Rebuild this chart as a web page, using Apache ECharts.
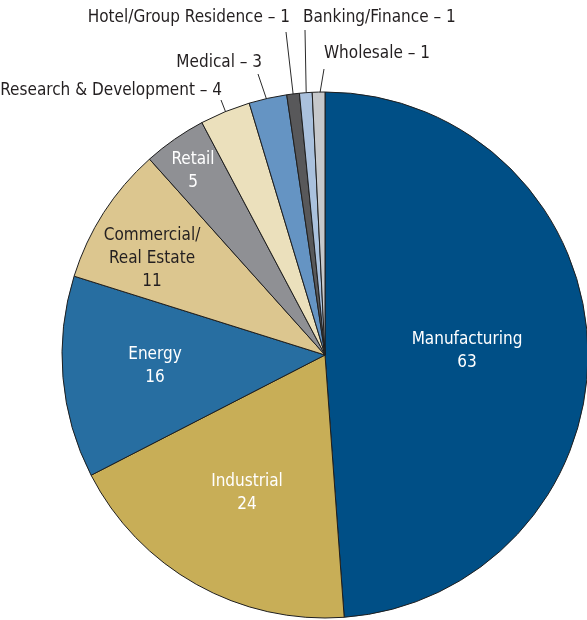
<!DOCTYPE html>
<html><head><meta charset="utf-8">
<script src="https://cdn.jsdelivr.net/npm/echarts@6/dist/echarts.min.js"></script>
<style>html,body{margin:0;padding:0;background:#fff}#c{width:587px;height:620px}</style>
</head><body><div id="c"></div>
<script>
// ---- data ----
const categories = ['Manufacturing', 'Industrial', 'Energy', 'Commercial/\nReal Estate', 'Retail',
  'Research & Development', 'Medical', 'Hotel/Group Residence', 'Banking/Finance', 'Wholesale'];
const values = [63, 24, 16, 11, 5, 4, 3, 1, 1, 1];
const insideLabel = [true, true, true, true, true, false, false, false, false, false];

// ---- style ----
const colors = ['#004f86', '#c8ae57', '#276ea1', '#dcc68f', '#8f9094', '#ebe0bc', '#6594c3', '#58585a', '#aac1dd', '#c6c8cb'];
const labelColors = ['#ffffff', '#ffffff', '#ffffff', '#231f20', '#ffffff', '#231f20', '#231f20', '#231f20', '#231f20', '#231f20'];

// pick a condensed font if one is available
function measure(font) {
  const ctx = document.createElement('canvas').getContext('2d');
  ctx.font = font;
  return ctx.measureText('Manufacturing').width;
}
let FONT_STYLE = 'normal', FONT_FAMILY = "'DejaVu Sans'", FONT_SIZE = 17;
(function chooseFont() {
  const base = measure("normal normal 17px 'DejaVu Sans'");
  const cond = measure("normal condensed normal 17px 'DejaVu Sans'");
  const condFam = measure("17px 'DejaVu Sans Condensed', monospace");
  const mono = measure("17px monospace");
  if (cond < base * 0.96) {
    FONT_STYLE = 'normal condensed'; FONT_FAMILY = "'DejaVu Sans'"; FONT_SIZE = 17;
  } else if (Math.abs(condFam - mono) > 1) {
    FONT_FAMILY = "'DejaVu Sans Condensed'"; FONT_SIZE = 17;
  } else {
    FONT_FAMILY = "'Liberation Sans'"; FONT_SIZE = 17;
  }
})();

// label placement (layout only)
const labelPlace = [
  { x: 467, y: 351 },
  { x: 247, y: 493 },
  { x: 155, y: 366 },
  { x: 152, y: 259 },
  { x: 193, y: 171 },
  { x: 222, y: 91, align: 'right', ex: 221, ey: 100, inset: 23 },
  { x: 262, y: 63, align: 'right', ex: 258, ey: 74, inset: 14 },
  { x: 290, y: 18, align: 'right', ex: 286, ey: 32, inset: 8 },
  { x: 303, y: 18, align: 'left', ex: 305, ey: 30, inset: 7 },
  { x: 324, y: 54, align: 'left', ex: 324, ey: 69, inset: 8 }
];

const chart = echarts.init(document.getElementById('c'), null, { renderer: 'canvas' });

const data = categories.map((name, i) => ({
  name: name,
  value: values[i],
  itemStyle: { color: colors[i] },
  label: insideLabel[i]
    ? { position: 'inside', formatter: '{b}\n{c}', color: labelColors[i], lineHeight: 23 }
    : { position: 'outside', formatter: '{b} – {c}', color: labelColors[i] },
  labelLine: { show: !insideLabel[i], length: 15, length2: 0 }
}));

chart.setOption({
  animation: false,
  series: [{
    type: 'pie',
    center: [325, 355],
    radius: 263,
    startAngle: 90,
    clockwise: true,
    avoidLabelOverlap: false,
    itemStyle: { borderColor: '#1e1e1e', borderWidth: 1 },
    emphasis: { disabled: true },
    label: { fontFamily: FONT_FAMILY, fontStyle: FONT_STYLE, fontSize: FONT_SIZE },
    labelLine: { lineStyle: { color: '#2a2a2a', width: 1 }, smooth: false },
    labelLayout: function (params) {
      const i = params.dataIndex;
      const L = labelPlace[i];
      if (insideLabel[i]) {
        return { x: L.x, y: L.y, align: 'center', verticalAlign: 'middle' };
      }
      const pts = params.labelLinePoints;
      let start = [L.ex, L.ey + 30];
      if (pts && pts.length >= 2) {
        const dx = pts[0][0] - pts[1][0], dy = pts[0][1] - pts[1][1];
        const len = Math.sqrt(dx * dx + dy * dy) || 1;
        start = [pts[0][0] + dx / len * L.inset, pts[0][1] + dy / len * L.inset];
      }
      const end = [L.ex, L.ey];
      return { x: L.x, y: L.y, align: L.align, verticalAlign: 'middle', labelLinePoints: [start, end, end] };
    },
    data: data
  }]
});
</script>
</body></html>
